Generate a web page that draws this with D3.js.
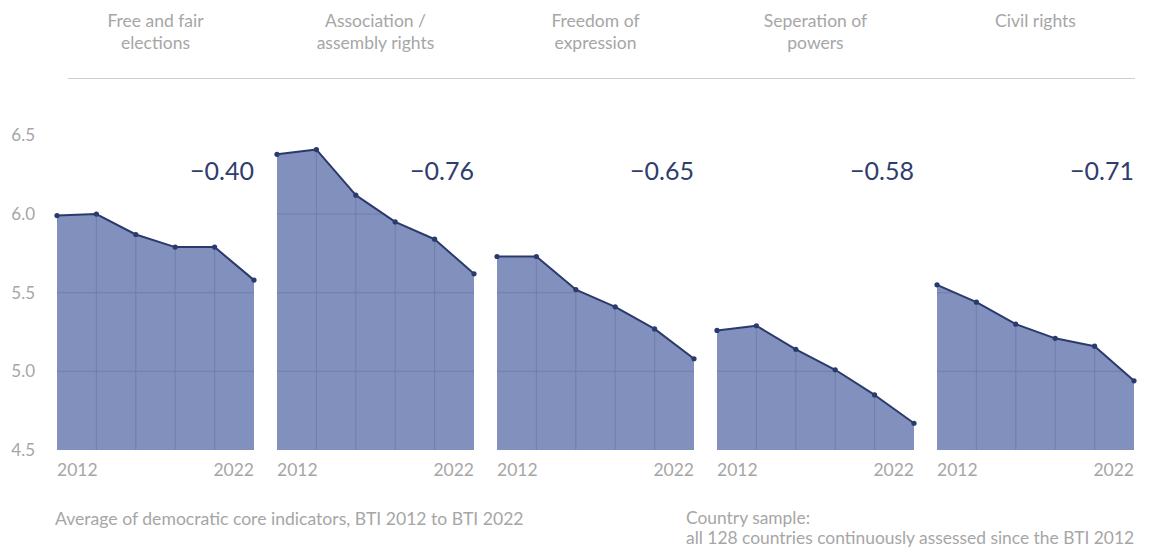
<!DOCTYPE html>
<html>
<head>
<meta charset="utf-8">
<script src="https://cdn.jsdelivr.net/npm/d3@7/dist/d3.min.js"></script>
<style>
  html, body { margin: 0; padding: 0; background: #ffffff; }
  svg { display: block; font-family: Lato, "Open Sans", sans-serif; }
</style>
</head>
<body>
<svg id="chart" width="1153" height="548"></svg>
<script>
// ---- data ----
const categories = ["Free and fair elections", "Association / assembly rights", "Freedom of expression", "Seperation of powers", "Civil rights"];
const titleLines = [["Free and fair", "elections"], ["Association /", "assembly rights"], ["Freedom of", "expression"], ["Seperation of", "powers"], ["Civil rights"]];
const years = [2012, 2014, 2016, 2018, 2020, 2022];
const electionsValues   = [5.99, 6.00, 5.87, 5.79, 5.79, 5.58];
const associationValues = [6.38, 6.41, 6.12, 5.95, 5.84, 5.62];
const expressionValues  = [5.73, 5.73, 5.52, 5.41, 5.27, 5.08];
const separationValues  = [5.26, 5.29, 5.14, 5.01, 4.85, 4.67];
const civilValues       = [5.55, 5.44, 5.30, 5.21, 5.16, 4.94];
const changeLabels = ["\u22120.40", "\u22120.76", "\u22120.65", "\u22120.58", "\u22120.71"];
const yTicks = [4.5, 5.0, 5.5, 6.0, 6.5];
const xTickYears = [2012, 2022];
const footLeft = "Average of democratic core indicators, BTI 2012 to BTI 2022";
const footRight = ["Country sample:", "all 128 countries continuously assessed since the BTI 2012"];

const seriesValues = [electionsValues, associationValues, expressionValues, separationValues, civilValues];

// ---- layout ----
const svg = d3.select("#chart");
const fillColor = "#8190bc";
const lineColor = "#2b3a6c";
const gridColor = "#6c7bab";
const greyText = "#a6a6a6";

const panel = d3.scaleBand().domain(categories).range([57, 1134]).paddingInner(23 / 220).paddingOuter(0);
const y = d3.scaleLinear().domain([4.5, 6.5]).range([450, 135.4]);
const x = d3.scalePoint().domain(years).range([0, panel.bandwidth()]);

// header titles
categories.forEach((c, i) => {
  const cx = panel(c) + panel.bandwidth() / 2;
  const t = svg.append("text")
    .attr("x", cx).attr("y", 27)
    .attr("text-anchor", "middle")
    .attr("fill", greyText)
    .style("font-size", "17.5px");
  titleLines[i].forEach((ln, j) => {
    t.append("tspan").attr("x", cx).attr("dy", j === 0 ? 0 : 22).text(ln);
  });
});

// header rule
svg.append("line")
  .attr("x1", 68).attr("x2", 1135)
  .attr("y1", 78.5).attr("y2", 78.5)
  .attr("stroke", "#cfcfcf").attr("stroke-width", 1.2);

// y axis labels
const yAxis = d3.axisLeft(y).tickValues(yTicks).tickFormat(d3.format(".1f")).tickSize(0).tickPadding(0);
const yg = svg.append("g").attr("transform", "translate(35,0)").call(yAxis);
yg.select(".domain").remove();
yg.selectAll("text").attr("fill", greyText).style("font-size", "17px").style("font-family", "Lato, sans-serif");

const area = d3.area().x((d, i) => x(years[i])).y0(y(4.5)).y1(d => y(d));
const line = d3.line().x((d, i) => x(years[i])).y(d => y(d));

categories.forEach((c, i) => {
  const vals = seriesValues[i];
  const g = svg.append("g").attr("transform", `translate(${panel(c)},0)`);

  const clipId = "clip" + i;
  g.append("clipPath").attr("id", clipId).append("path").attr("d", area(vals));

  g.append("path").attr("d", area(vals)).attr("fill", fillColor);

  const grid = g.append("g").attr("clip-path", `url(#${clipId})`);
  grid.selectAll("line.v").data(years.slice(1, -1)).enter().append("line")
    .attr("x1", d => x(d)).attr("x2", d => x(d))
    .attr("y1", y(6.5)).attr("y2", y(4.5))
    .attr("stroke", gridColor).attr("stroke-width", 1).attr("opacity", 0.8);
  grid.selectAll("line.h").data(yTicks.slice(1, -1)).enter().append("line")
    .attr("x1", 0).attr("x2", panel.bandwidth())
    .attr("y1", d => y(d)).attr("y2", d => y(d))
    .attr("stroke", gridColor).attr("stroke-width", 1).attr("opacity", 0.8);

  g.append("path").attr("d", line(vals)).attr("fill", "none")
    .attr("stroke", lineColor).attr("stroke-width", 2).attr("stroke-linejoin", "round");

  g.selectAll("circle").data(vals).enter().append("circle")
    .attr("cx", (d, k) => x(years[k])).attr("cy", d => y(d)).attr("r", 2.6)
    .attr("fill", lineColor);

  // change label
  g.append("text")
    .attr("x", panel.bandwidth()).attr("y", 180)
    .attr("text-anchor", "end")
    .attr("fill", "#2f3d6e")
    .style("font-size", "25px")
    .text(changeLabels[i]);

  // x labels
  g.selectAll("text.yr").data(xTickYears).enter().append("text")
    .attr("class", "yr")
    .attr("x", d => x(d)).attr("y", 476)
    .attr("text-anchor", (d, k) => k === 0 ? "start" : "end")
    .attr("fill", greyText)
    .style("font-size", "17.5px")
    .text(d => d);
});

// footer
svg.append("text")
  .attr("x", 55).attr("y", 525)
  .attr("fill", greyText).style("font-size", "17.6px")
  .text(footLeft);

footRight.forEach((ln, j) => {
  svg.append("text")
    .attr("x", 686).attr("y", 524 + j * 20)
    .attr("fill", greyText).style("font-size", "17.4px")
    .text(ln);
});
</script>
</body>
</html>
